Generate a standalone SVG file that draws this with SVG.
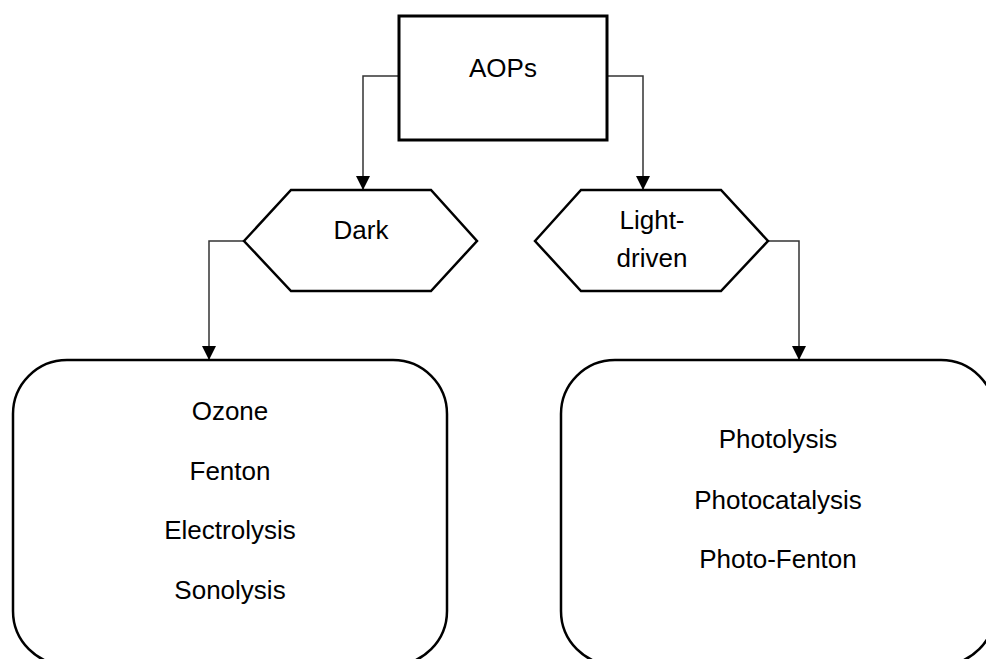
<svg xmlns="http://www.w3.org/2000/svg" width="986" height="659" viewBox="0 0 986 659">
  <defs>
    <marker id="arrow" markerWidth="14" markerHeight="14" refX="13" refY="7" orient="auto" markerUnits="userSpaceOnUse">
      <path d="M0,0 L14,7 L0,14 Z" fill="#000"/>
    </marker>
    <style>
      .box { fill: #fff; stroke: #000; stroke-width: 2.5; }
      .top { fill: #fff; stroke: #000; stroke-width: 3; }
      .link { fill: none; stroke: #333; stroke-width: 1.5; }
      text { font-family: "Liberation Sans", Arial, sans-serif; font-size: 26px; fill: #000; text-anchor: middle; }
    </style>
  </defs>
  <rect width="986" height="659" fill="#fff"/>

  <g id="connectors">
    <path class="link" d="M399,76 H363 V189" marker-end="url(#arrow)"/>
    <path class="link" d="M607,76 H643 V189" marker-end="url(#arrow)"/>
    <path class="link" d="M244,241 H209 V359" marker-end="url(#arrow)"/>
    <path class="link" d="M768,241 H799 V359" marker-end="url(#arrow)"/>
  </g>

  <g id="aops">
    <rect class="top" x="399" y="16" width="208" height="124"/>
    <text x="503" y="77">AOPs</text>
  </g>

  <g id="dark">
    <polygon class="box" points="244,241 291,190 431,190 477,241 431,291 291,291"/>
    <text x="361" y="239">Dark</text>
  </g>

  <g id="light-driven">
    <polygon class="box" points="535,241 581,190 721,190 768,241 721,291 581,291"/>
    <text x="652" y="229">Light-</text>
    <text x="652" y="267">driven</text>
  </g>

  <g id="dark-methods">
    <rect class="box" x="13" y="360" width="434" height="305" rx="54" ry="54"/>
    <text x="230" y="420">Ozone</text>
    <text x="230" y="480">Fenton</text>
    <text x="230" y="539">Electrolysis</text>
    <text x="230" y="599">Sonolysis</text>
  </g>

  <g id="light-methods">
    <rect class="box" x="561" y="360" width="434" height="305" rx="54" ry="54"/>
    <text x="778" y="448">Photolysis</text>
    <text x="778" y="509">Photocatalysis</text>
    <text x="778" y="568">Photo-Fenton</text>
  </g>
</svg>
